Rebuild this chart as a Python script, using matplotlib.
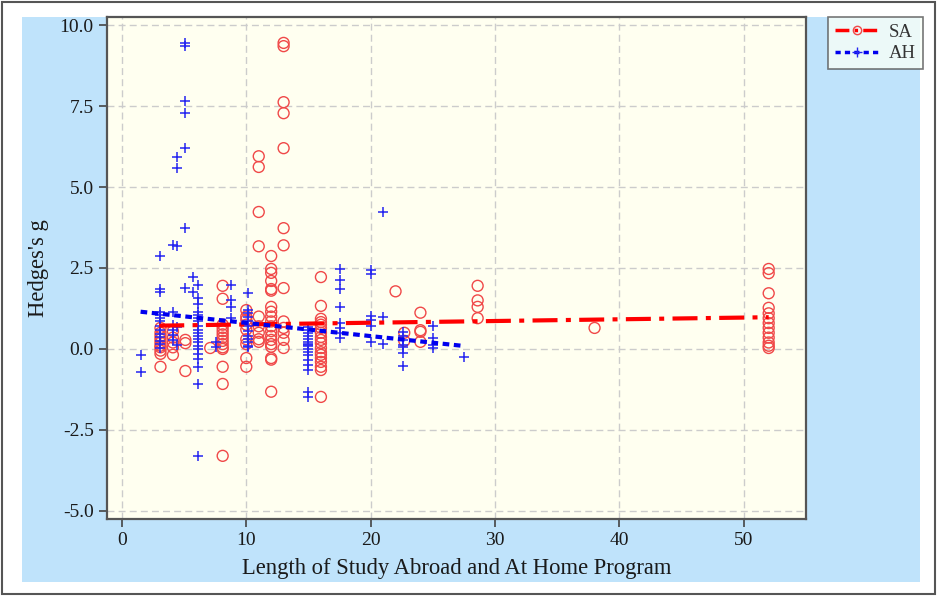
import numpy as np
import matplotlib
matplotlib.use("Agg")
import matplotlib.pyplot as plt
from matplotlib.patches import Rectangle
from matplotlib.lines import Line2D

plt.rcParams['font.family'] = ['Liberation Serif', 'DejaVu Serif']

# ---- data ----
sa_cols = [3.1, 4.1, 5.1, 7.1, 8.1, 10.0, 11.0, 12.0, 13.0, 16.0, 22.0, 22.7, 24.0, 28.6, 38.0, 52.0]
sa_vals = [
    [0.65, 0.5, 0.4, 0.3, 0.2, 0.1, 0.05, -0.05, -0.15, -0.55],
    [0.55, 0.35, 0.2, 0.05, -0.18],
    [0.28, 0.18, -0.68],
    [0.03],
    [1.95, 1.55, 0.75, 0.65, 0.55, 0.45, 0.35, 0.25, 0.15, 0.05, 0.0, -0.55, -1.08, -3.3],
    [1.2, 1.0, 0.9, 0.75, 0.6, 0.3, 0.15, -0.28, -0.55],
    [5.95, 5.62, 4.23, 3.17, 1.0, 0.7, 0.5, 0.3, 0.22],
    [2.87, 2.47, 2.35, 2.1, 1.85, 1.8, 1.3, 1.15, 1.0, 0.85, 0.7, 0.55, 0.4, 0.28, 0.15, 0.07, -0.28, -0.33, -1.32],
    [9.45, 9.35, 7.62, 7.28, 6.2, 3.73, 3.2, 1.88, 0.85, 0.65, 0.5, 0.28, 0.03],
    [2.22, 1.33, 0.93, 0.83, 0.75, 0.65, 0.5, 0.37, 0.28, 0.18, 0.03, -0.1, -0.18, -0.28, -0.4, -0.55, -0.65, -1.48],
    [1.78],
    [0.5, 0.25],
    [1.12, 0.58, 0.53, 0.22],
    [1.95, 1.5, 1.3, 0.95],
    [0.65],
    [2.47, 2.34, 1.72, 1.27, 1.1, 0.95, 0.8, 0.65, 0.5, 0.35, 0.2, 0.1, 0.03],
]

ah_cols = [1.5, 3.1, 4.1, 4.4, 5.1, 5.7, 6.1, 7.6, 8.8, 10.1, 15.0, 17.5, 20.0, 21.0, 22.6, 25.0, 27.5]
ah_vals = [
    [-0.18, -0.7],
    [2.87, 1.85, 1.76, 1.15, 1.05, 0.95, 0.85, 0.7, 0.58, 0.46, 0.37, 0.25, 0.15, 0.03],
    [3.2, 1.15, 0.75, 0.58, 0.43, 0.28],
    [5.93, 5.6, 3.18, 0.68, 0.12],
    [9.45, 9.35, 7.65, 7.3, 6.2, 3.73, 1.88],
    [2.22, 1.77],
    [1.97, 1.57, 1.4, 1.15, 1.05, 0.95, 0.85, 0.7, 0.6, 0.5, 0.4, 0.3, 0.2, 0.1, 0.0, -0.15, -0.3, -0.55, -1.07, -3.3],
    [0.22, 0.07],
    [1.97, 1.5, 1.3, 0.95],
    [1.73, 1.2, 1.1, 1.0, 0.85, 0.7, 0.55, 0.4, 0.3, 0.2, 0.1, 0.05],
    [0.68, 0.6, 0.5, 0.4, 0.3, 0.2, 0.15, 0.12, 0.08, 0.0, -0.1, -0.2, -0.35, -0.5, -0.65, -1.33, -1.48],
    [2.47, 2.13, 1.85, 1.3, 0.8, 0.65, 0.5, 0.35],
    [2.43, 2.32, 1.02, 0.88, 0.7, 0.22],
    [4.23, 1.0, 0.15],
    [0.53, 0.4, 0.28, 0.12, 0.07, -0.13, -0.53],
    [0.7, 0.35, 0.12, 0.03],
    [-0.25],
]

# fitted lines (endpoints)
sa_fit_x = [3.0, 52.0]
sa_fit_y = [0.72, 0.98]
ah_fit_x = [1.5, 27.3]
ah_fit_y = [1.15, 0.10]

x_ticks = [0, 10, 20, 30, 40, 50]
y_ticks = [-5.0, -2.5, 0.0, 2.5, 5.0, 7.5, 10.0]
y_tick_labels = ["-5.0", "-2.5", "0.0", "2.5", "5.0", "7.5", "10.0"]

sa_x = np.concatenate([[c] * len(v) for c, v in zip(sa_cols, sa_vals)])
sa_y = np.concatenate(sa_vals)
ah_x = np.concatenate([[c] * len(v) for c, v in zip(ah_cols, ah_vals)])
ah_y = np.concatenate(ah_vals)

# ---- figure ----
W, H = 938, 597
fig = plt.figure(figsize=(W / 100, H / 100), dpi=100, facecolor='white')

# outer frame and blue panel (behind the axes)
fig.patches.append(Rectangle((2 / W, 3 / H), 933 / W, 592 / H, transform=fig.transFigure,
                             facecolor='none', edgecolor='#555555', lw=1.5, zorder=-20))
fig.patches.append(Rectangle((22 / W, 1 - 582 / H), 898 / W, 565 / H, transform=fig.transFigure,
                             facecolor='#bfe3fb', edgecolor='none', zorder=-10))

ax = fig.add_axes([107 / W, 1 - 519 / H, 699 / W, 502 / H])
ax.set_facecolor('#fffff0')

ax.scatter(sa_x, sa_y, s=62, facecolors='none', edgecolors='#f04848', linewidths=1.0, zorder=3)
ax.scatter(ah_x, ah_y, s=58, marker='+', color='#2525f0', linewidths=1.1, zorder=3)

ax.plot(sa_fit_x, sa_fit_y, color='#ff0000', lw=3, linestyle=(0, (6, 2, 1.2, 2)), zorder=4)
ax.plot(ah_fit_x, ah_fit_y, color='#0000ee', lw=3, linestyle=(0, (1.6, 1.1)), zorder=4)

ax.set_xlim(-1.2, 55)
ax.set_ylim(-5.25, 10.25)
ax.set_xticks(x_ticks)
ax.set_yticks(y_ticks)
ax.set_yticklabels(y_tick_labels)
ax.grid(True, color='#cccccc', linestyle=(0, (5, 3)), lw=1.0)
ax.set_axisbelow(True)

for s in ax.spines.values():
    s.set_color('#555555')
    s.set_linewidth(1.6)
ax.tick_params(axis='both', direction='out', length=6, width=1.2, color='#444444',
               labelsize=14, labelcolor='#1a1a1a')

ax.set_xlabel("Length of Study Abroad and At Home Program", fontsize=16.3, color='#1a1a1a', labelpad=6)
ax.set_ylabel("Hedges's g", fontsize=16.3, color='#1a1a1a', labelpad=8)

handles = [
    Line2D([0], [0], color='#ff0000', lw=2.5, linestyle=(0, (4, 1.5, 1, 1.5)), marker='o',
           markersize=6, markerfacecolor='none', markeredgecolor='#f04848'),
    Line2D([0], [0], color='#0000ee', lw=2.5, linestyle=(0, (1.5, 1.2)), marker='+',
           markersize=7, markeredgecolor='#2525f0'),
]
leg = fig.legend(handles, ['SA', 'AH'], loc='upper left', bbox_to_anchor=(828 / W, 1 - 17 / H),
                 bbox_transform=fig.transFigure, fontsize=13.5, frameon=True, fancybox=False,
                 handlelength=2.4, borderpad=0.35, labelspacing=0.25, handletextpad=0.5,
                 borderaxespad=0)
leg.get_frame().set_edgecolor('#555555')
leg.get_frame().set_facecolor('#f8fff8')
leg.get_frame().set_linewidth(1.2)
for t in leg.get_texts():
    t.set_color('#333333')

fig.savefig('out.png', dpi=100, facecolor='white')
